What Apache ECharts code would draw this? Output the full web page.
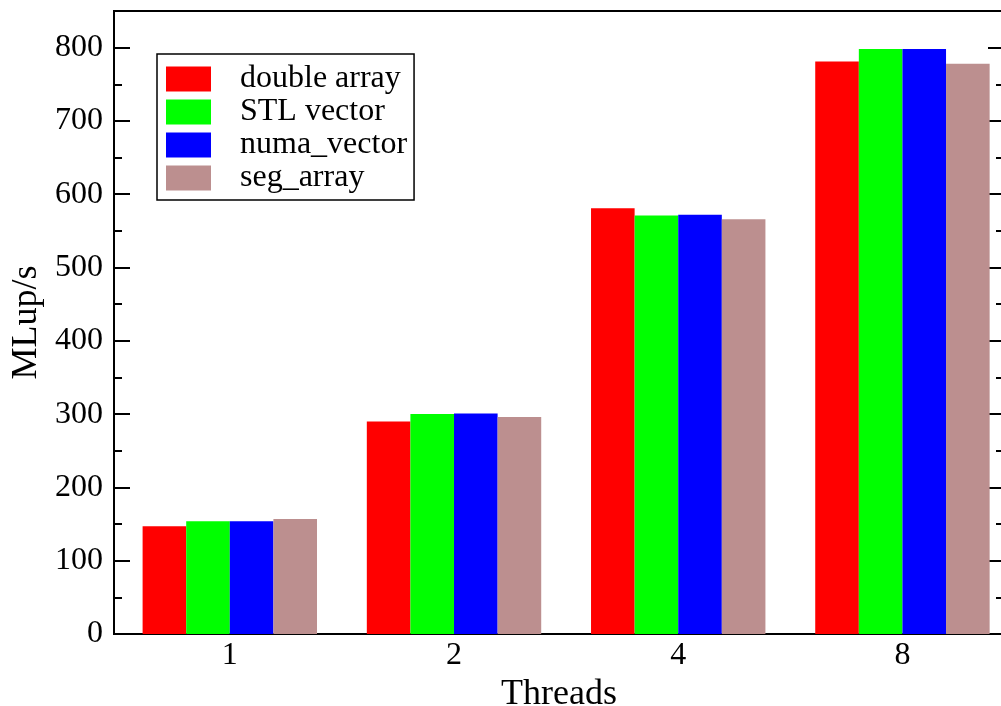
<!DOCTYPE html>
<html>
<head>
<meta charset="utf-8">
<script src="https://cdn.jsdelivr.net/npm/echarts@6/dist/echarts.min.js"></script>
<style>html,body{margin:0;padding:0;background:#fff;}#c{width:1001px;height:706px;}</style>
</head>
<body>
<div id="c"></div>
<script>
const threads = ['1', '2', '4', '8'];
const seriesNames = ['double array', 'STL vector', 'numa_vector', 'seg_array'];
const doubleArray = [147, 290, 581, 781];
const stlVector = [154, 300, 571, 798];
const numaVector = [154, 301, 572, 798];
const segArray = [157, 296, 566, 778];
const colors = ['#ff0000', '#00ff00', '#0000ff', '#bc8f8f'];
const yTicks = [0, 100, 200, 300, 400, 500, 600, 700, 800];

const allValues = [doubleArray, stlVector, numaVector, segArray];
const font = 'Liberation Serif';
const chart = echarts.init(document.getElementById('c'), null, {renderer: 'canvas'});

const yCommon = {
  type: 'value', min: 0, max: 850, interval: 100,
  axisLine: {show: false},
  axisTick: {show: true, inside: true, length: 16, lineStyle: {color: '#000', width: 2}, customValues: yTicks},
  minorTick: {show: true, splitNumber: 2, length: 8, lineStyle: {color: '#000', width: 2}},
  splitLine: {show: false}
};

chart.setOption({
  animation: false,
  backgroundColor: '#fff',
  color: colors,
  grid: {left: 114, top: 11, width: 890, height: 623, show: true, borderColor: '#000', borderWidth: 2,
         backgroundColor: 'transparent', containLabel: false, outerBoundsMode: 'none'},
  legend: {
    left: 157, top: 54, orient: 'vertical',
    data: seriesNames,
    itemWidth: 45, itemHeight: 25, itemGap: 1,
    icon: 'rect',
    padding: [9, 7, 6, 9],
    borderColor: '#000', borderWidth: 1.5,
    textStyle: {fontFamily: font, fontSize: 32, color: '#000', lineHeight: 32, padding: [0, 0, 0, 24]}
  },
  xAxis: {
    type: 'value', min: 0.4835, max: 4.453,
    name: 'Threads', nameLocation: 'middle', nameGap: 38,
    nameTextStyle: {fontFamily: font, fontSize: 36, color: '#000'},
    axisLine: {show: false},
    axisTick: {show: false},
    splitLine: {show: false},
    axisLabel: {
      customValues: [1, 2, 3, 4],
      formatter: v => threads[Math.round(v) - 1],
      fontFamily: font, fontSize: 32, color: '#000', margin: 6
    }
  },
  yAxis: [
    Object.assign({}, yCommon, {
      position: 'left',
      name: 'MLup/s', nameLocation: 'middle', nameGap: 68,
      nameTextStyle: {fontFamily: font, fontSize: 36, color: '#000'},
      axisLabel: {fontFamily: font, fontSize: 32, color: '#000', margin: 11, customValues: yTicks}
    }),
    Object.assign({}, yCommon, {position: 'right', axisLabel: {show: false}})
  ],
  series: seriesNames.map((n, i) => ({
    name: n, type: 'bar', barWidth: 43.6, barGap: '0%',
    itemStyle: {color: colors[i]},
    data: allValues[i].map((v, j) => [j + 1, v])
  }))
});
</script>
</body>
</html>
